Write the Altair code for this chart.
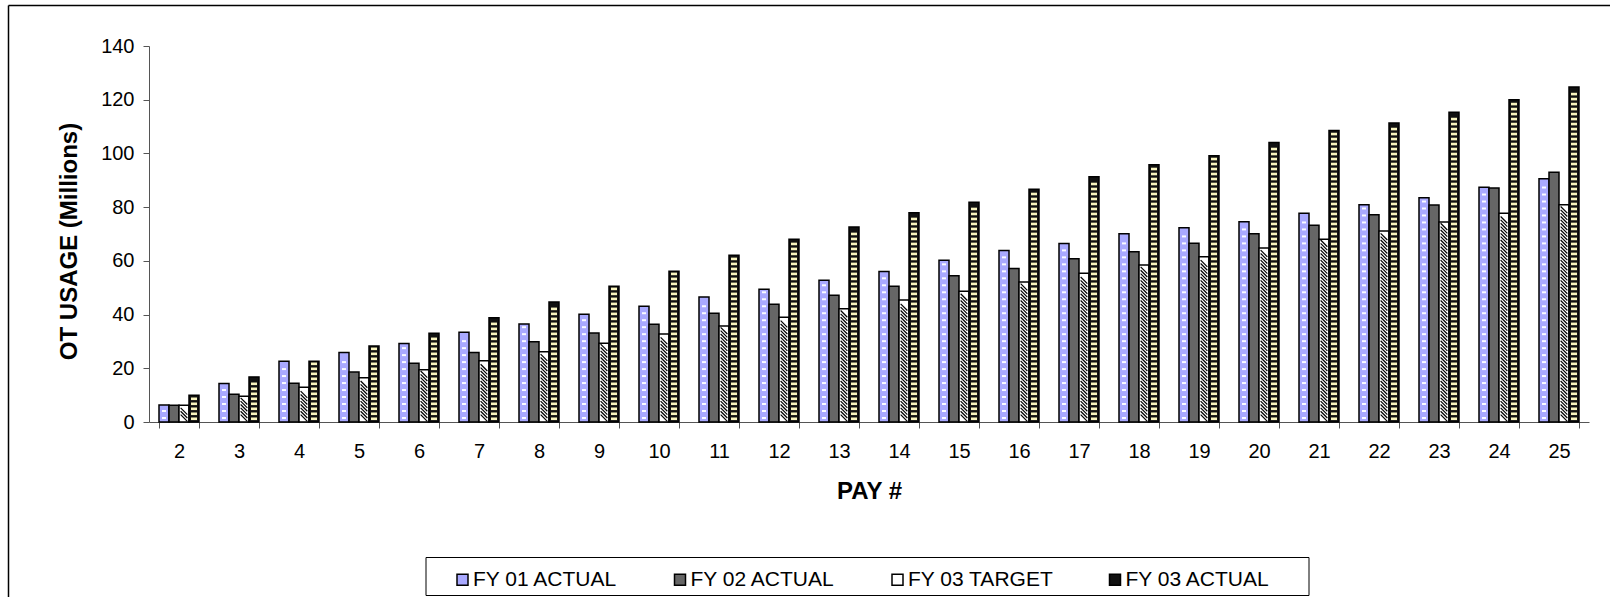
import altair as alt
import pandas as pd

pay = list(range(2, 26))
series = ["FY 01 ACTUAL", "FY 02 ACTUAL", "FY 03 TARGET", "FY 03 ACTUAL"]
fills = ["#A9A9FF", "#666666", "#FFFFFF", "#111111"]

fy01_actual = [6.3, 14.3, 22.6, 25.9, 29.2, 33.4, 36.5, 40.1, 43.1, 46.5, 49.4, 52.8,
               56.0, 60.2, 63.9, 66.5, 70.1, 72.3, 74.6, 77.7, 80.9, 83.5, 87.4, 90.6]
fy02_actual = [6.2, 10.3, 14.4, 18.6, 21.9, 25.9, 29.9, 33.1, 36.4, 40.5, 43.8, 47.2,
               50.5, 54.5, 57.2, 60.8, 63.4, 66.6, 70.1, 73.3, 77.2, 80.8, 87.1, 93.0]
fy03_target = [6.2, 9.6, 12.9, 16.5, 19.5, 22.8, 26.2, 29.3, 32.8, 35.7, 39.0, 42.2,
               45.4, 48.7, 52.1, 55.4, 58.5, 61.5, 64.8, 68.0, 71.1, 74.5, 77.7, 80.9]
fy03_actual = [10.0, 16.8, 22.6, 28.3, 33.0, 38.8, 44.7, 50.5, 56.1, 62.1, 68.0, 72.6,
               77.9, 81.8, 86.7, 91.3, 95.8, 99.1, 104.1, 108.5, 111.3, 115.3, 120.0, 124.7]

rows = []
for name, vals in zip(series, [fy01_actual, fy02_actual, fy03_target, fy03_actual]):
    for p, v in zip(pay, vals):
        rows.append({"pay": p, "series": name, "value": v})
df = pd.DataFrame(rows)

FONT = "Liberation Sans"

x_enc = alt.X(
    "pay:O",
    scale=alt.Scale(paddingInner=1 / 3, paddingOuter=1 / 6),
    axis=alt.Axis(
        title="PAY #", labelAngle=0, tickBand="extent", tickSize=6,
        labelPadding=13, titlePadding=18, labelFontSize=20, titleFontSize=24,
        titleFontWeight="bold", labelFont=FONT, titleFont=FONT,
        domainColor="#555555", tickColor="#555555", labelColor="black", titleColor="black",
    ),
)
xoff = alt.XOffset("series:N", scale=alt.Scale(domain=series, paddingInner=0, paddingOuter=0))
yscale = alt.Scale(domain=[0, 140], nice=False)
yaxis = alt.Axis(
    title="OT USAGE (Millions)", values=[0, 20, 40, 60, 80, 100, 120, 140],
    grid=False, tickSize=6, labelPadding=9, labelFontSize=20, titleFontSize=24,
    titleFontWeight="bold", labelFont=FONT, titleFont=FONT,
    domainColor="#555555", tickColor="#555555", labelColor="black", titleColor="black",
    titleAngle=-90, titleX=-80, titleY=195, titleAlign="center", titleBaseline="middle",
)

base = alt.Chart(df)

bars = base.mark_bar(stroke="black", strokeWidth=1.5).encode(
    x=x_enc,
    xOffset=xoff,
    y=alt.Y("value:Q", scale=yscale, axis=yaxis),
    fill=alt.Fill(
        "series:N", scale=alt.Scale(domain=series, range=fills),
        legend=alt.Legend(
            title=None, orient="none", legendX=303, legendY=523, direction="horizontal",
            columns=4, gridAlign="all", columnPadding=50.5, padding=0,
            symbolType="square", symbolSize=121, symbolStrokeColor="black",
            symbolStrokeWidth=1.5, labelFontSize=21, labelFont=FONT, labelColor="black",
            labelOffset=0, labelLimit=300,
        ),
    ),
)

# FY 03 ACTUAL yellow dashes
dash03 = base.transform_filter(alt.datum.series == "FY 03 ACTUAL").transform_calculate(
    s="sequence(1.2, datum.value - 0.9, 1.86)"
).transform_flatten(["s"]).mark_tick(
    color="#F8F4BE", size=6, thickness=2.6, orient="horizontal", opacity=1
).encode(x=x_enc, xOffset=xoff, y=alt.Y("s:Q", scale=yscale, axis=yaxis))

# FY 01 ACTUAL white dashes
dash01 = base.transform_filter(alt.datum.series == "FY 01 ACTUAL").transform_calculate(
    s="sequence(1.5, datum.value - 1.0, 2.6)"
).transform_flatten(["s"]).mark_tick(
    color="white", size=4, thickness=2, orient="horizontal", opacity=0.95
).encode(x=x_enc, xOffset=xoff, y=alt.Y("s:Q", scale=yscale, axis=yaxis))

# FY 03 TARGET diagonal hatch
hatch = base.transform_filter(alt.datum.series == "FY 03 TARGET").transform_calculate(
    s="sequence(1.5, datum.value - 1.4, 1.25)"
).transform_flatten(["s"]).mark_point(
    shape="M -1 -1 L 1 1", size=45, stroke="black", strokeWidth=1.2, filled=False, opacity=1
).encode(x=x_enc, xOffset=xoff, y=alt.Y("s:Q", scale=yscale, axis=yaxis))

deco = alt.Chart(pd.DataFrame({"k": [0]}))
border_left = deco.mark_rule(color="black", strokeWidth=1.5).encode(
    x=alt.value(-140.5), y=alt.value(-40.5), y2=alt.value(600))
right_cover = deco.mark_rect(fill="white", stroke="white", strokeWidth=0).encode(
    x=alt.value(1444), x2=alt.value(1470), y=alt.value(-46), y2=alt.value(560))
border_top = deco.mark_rule(color="black", strokeWidth=1.5).encode(
    x=alt.value(-140.5), x2=alt.value(1470), y=alt.value(-40.5))
legend_box = deco.mark_rect(fill="white", stroke="black", strokeWidth=1).encode(
    x=alt.value(277), x2=alt.value(1160), y=alt.value(511.5), y2=alt.value(549.5))

chart = alt.layer(
    border_left, legend_box, bars, dash01, dash03, hatch, right_cover, border_top
).properties(
    width=1440, height=376,
    background="white",
    autosize=alt.AutoSizeParams(type="none"),
    padding={"left": 149, "top": 46, "right": 21, "bottom": 175},
).configure_view(stroke=None)

chart.save("out.html", embed_options={"renderer": "svg", "actions": False})
